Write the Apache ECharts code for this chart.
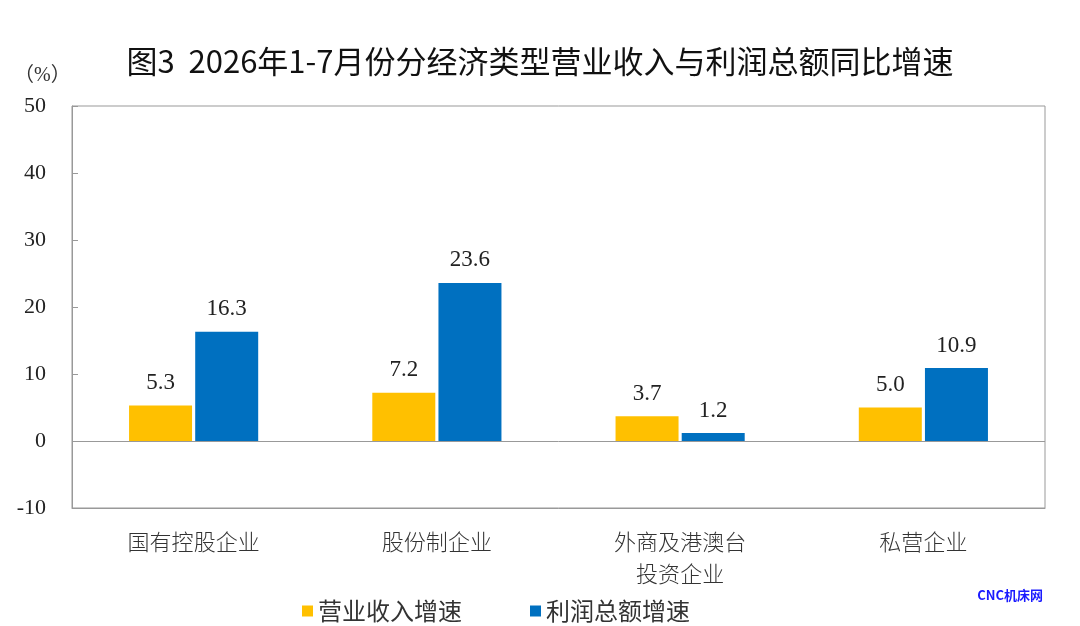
<!DOCTYPE html>
<html>
<head>
<meta charset="utf-8">
<script src="https://cdn.jsdelivr.net/npm/echarts@6/dist/echarts.min.js"></script>
<style>
	html, body { margin: 0; padding: 0; background: #fff; }
	#chart { width: 1080px; height: 626px; }
</style>
</head>
<body>
<div id="chart"></div>
<script>
var categories = ['国有控股企业', '股份制企业', '外商及港澳台\n投资企业', '私营企业'];
var revenueGrowth = [5.3, 7.2, 3.7, 5.0];
var profitGrowth = [16.3, 23.6, 1.2, 10.9];
var seriesNames = ['营业收入增速', '利润总额增速'];
var yTicks = { min: -10, max: 50, interval: 10 };

var serif = "'Liberation Serif', 'Noto Sans CJK SC', serif";
var cjk = "'Noto Sans CJK SC', sans-serif";

var labelOption = {
	show: true,
	position: 'top',
	distance: 11,
	color: '#222',
	fontFamily: serif,
	fontSize: 23,
	formatter: function (p) { return p.value.toFixed(1); }
};

var myChart = echarts.init(document.getElementById('chart'));
var option = {
	animation: false,
	backgroundColor: '#fff',
	color: ['#FFC000', '#0070C0'],
	title: {
		text: '图3  2026年1-7月份分经济类型营业收入与利润总额同比增速',
		left: 'center',
		top: 41,
		textStyle: { fontFamily: cjk, fontSize: 31, fontWeight: 'normal', color: '#111' }
	},
	legend: {
		data: seriesNames,
		left: 297,
		top: 594,
		icon: 'rect',
		itemWidth: 11,
		itemHeight: 11,
		itemGap: 68,
		textStyle: { fontFamily: cjk, fontSize: 24, color: '#333' }
	},
	graphic: [{
		type: 'text',
		left: 14,
		top: 66,
		style: { text: '（%）', font: '20px ' + serif, fill: '#333' }
	}, {
		type: 'text',
		right: 37,
		top: 589,
		style: { text: 'CNC机床网', font: 'bold 13px ' + cjk, fill: '#1a1aff' }
	}],
	grid: {
		left: 72,
		right: 35,
		top: 106,
		bottom: 118,
		show: true,
		borderColor: '#999',
		borderWidth: 1
	},
	xAxis: {
		type: 'category',
		data: categories,
		axisLine: { onZero: false, lineStyle: { color: '#999' } },
		axisTick: { show: false },
		axisLabel: {
			margin: 18,
			fontFamily: cjk,
			fontSize: 22,
			fontWeight: 300,
			lineHeight: 32,
			color: '#333'
		}
	},
	yAxis: {
		type: 'value',
		min: yTicks.min,
		max: yTicks.max,
		interval: yTicks.interval,
		axisLine: { show: true, lineStyle: { color: '#999' } },
		axisTick: { show: true, inside: true, length: 6, lineStyle: { color: '#999' } },
		axisLabel: { margin: 26, fontFamily: serif, fontSize: 22, color: '#222' },
		splitLine: { show: false }
	},
	series: [{
		name: seriesNames[0],
		type: 'bar',
		barWidth: 63,
		barGap: '5%',
		label: labelOption,
		data: revenueGrowth,
		markLine: {
			silent: true,
			symbol: 'none',
			label: { show: false },
			lineStyle: { color: '#999', type: 'solid', width: 1 },
			data: [{ yAxis: 0 }]
		}
	}, {
		name: seriesNames[1],
		type: 'bar',
		barWidth: 63,
		label: labelOption,
		data: profitGrowth
	}]
};
myChart.setOption(option);
</script>
</body>
</html>
